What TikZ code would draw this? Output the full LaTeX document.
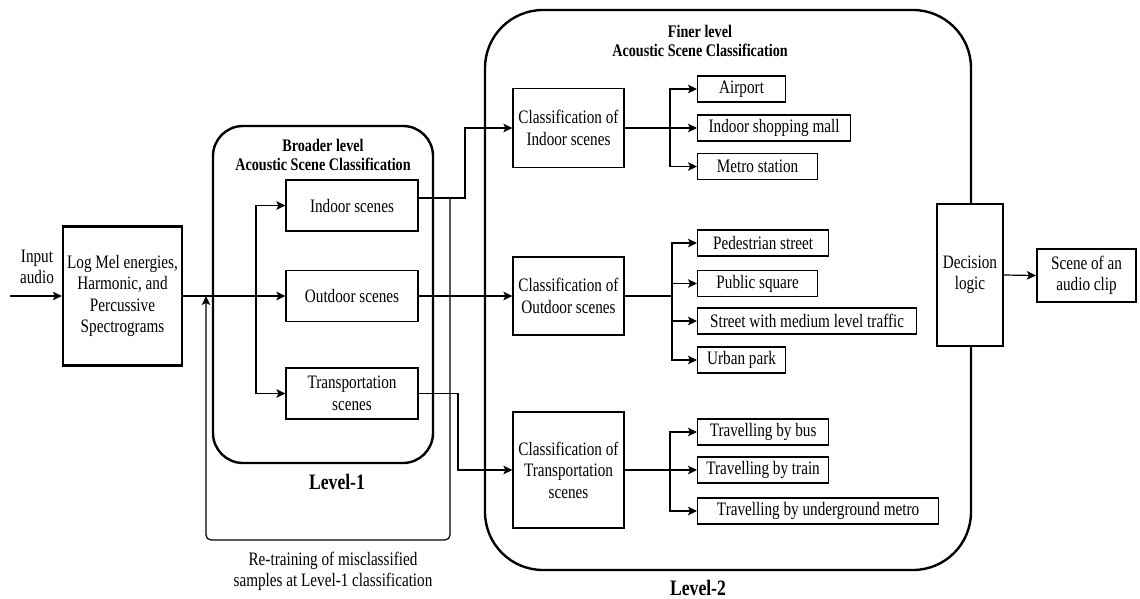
\documentclass[tikz,border=0pt]{standalone}
\usepackage{fontspec}
\setmainfont{Liberation Serif}[FakeStretch=0.8]
\usetikzlibrary{arrows.meta}
\begin{document}
\begin{tikzpicture}[x=1pt,y=-1pt,
  txt/.style={font=\fontsize{19}{21.5}\selectfont, align=center},
  hdr/.style={font=\fontsize{17.7}{19.5}\selectfont\bfseries, align=center},
  lvl/.style={font=\fontsize{22}{24}\selectfont\bfseries, anchor=base, inner sep=0pt, text depth=0pt},
  blk/.style={txt, draw, line width=1.2pt, fill=white, inner sep=0pt},
  thickblk/.style={blk, line width=2.2pt},
  leaf/.style={blk, minimum height=26pt, anchor=west},
  group/.style={draw, line width=2.4pt},
  wire/.style={line width=1.2pt},
  arr/.style={wire, -{Stealth[length=9pt,width=8.5pt,inset=2pt]}}]
\useasboundingbox (0,0) rectangle (1140,598);

% containers
\node[group, rounded corners=30pt, minimum width=220pt, minimum height=337pt] (lone) at (323,294.5) {};
\node[hdr] (lonehdr) at (323,155) {Broader level\\Acoustic Scene Classification};
\node[lvl] (lonelbl) at (337,489) {Level-1};

\node[group, rounded corners=58pt, minimum width=486pt, minimum height=560pt] (ltwo) at (728,290) {};
\node[hdr] (ltwohdr) at (700,41) {Finer level\\Acoustic Scene Classification};
\node[lvl] (ltwolbl) at (698,595.5) {Level-2};

% input and features
\node[txt] (inp) at (37,267) {Input\\audio};
\coordinate (src) at (10,296);
\node[thickblk, minimum width=119pt, minimum height=139pt] (feat) at (122.5,296) {Log Mel energies,\\Harmonic, and\\Percussive\\Spectrograms};

% level-1 classes
\node[blk, minimum width=132pt, minimum height=51pt] (indoor) at (352,205.5) {Indoor scenes};
\node[blk, minimum width=132pt, minimum height=51pt] (outdoor) at (352,296) {Outdoor scenes};
\node[blk, minimum width=132pt, minimum height=51pt] (transp) at (352,393.5) {Transportation\\scenes};

% level-2 classifiers
\node[blk, minimum width=111pt, minimum height=79pt] (cin) at (568.5,128) {Classification of\\Indoor scenes};
\node[blk, minimum width=111pt, minimum height=78pt] (cout) at (568.5,296) {Classification of\\Outdoor scenes};
\node[blk, minimum width=111pt, minimum height=116pt] (ctr) at (568.5,470) {Classification of\\Transportation\\scenes};

% leaf scenes
\node[leaf, minimum width=88pt] (airport) at (697,89) {Airport};
\node[leaf, minimum width=153pt] (mall) at (697,128) {Indoor shopping mall};
\node[leaf, minimum width=120pt] (metro) at (697,166.5) {Metro station};
\node[leaf, minimum width=131pt] (ped) at (697,243) {Pedestrian street};
\node[leaf, minimum width=120pt] (square) at (697,283.5) {Public square};
\node[leaf, minimum width=219pt] (street) at (697,321) {Street with medium level traffic};
\node[leaf, minimum width=88pt] (park) at (697,360) {Urban park};
\node[leaf, minimum width=131pt] (bus) at (697,432) {Travelling by bus};
\node[leaf, minimum width=131pt] (train) at (697,470) {Travelling by train};
\node[leaf, minimum width=241pt] (underground) at (697,511) {Travelling by underground metro};

% decision and output
\node[thickblk, minimum width=66pt, minimum height=142pt] (dec) at (970,275) {Decision\\logic};
\node[thickblk, minimum width=99pt, minimum height=53pt] (out) at (1086.5,275.5) {Scene of an\\audio clip};

\node[txt] (retrain) at (333,571.5) {Re-training of misclassified\\samples at Level-1 classification};

% connectors: input side
\draw[arr] (src) -- (feat.west);
\draw[arr] (feat.east) -- (outdoor.west);
\coordinate (split) at (256,296);
\draw[arr] (split) |- (indoor.west);
\draw[arr] (split) |- (transp.west);

% connectors: level-1 to level-2
\coordinate (inup) at (465,198);
\draw[arr] ([yshift=7.5pt]indoor.east) -- (inup) |- (cin.west);
\draw[arr] (outdoor.east) -- (cout.west);
\coordinate (trdown) at (458,393.5);
\draw[arr] (transp.east) -- (trdown) |- (ctr.west);

% re-training loop
\coordinate (tap) at (450,198);
\coordinate (join) at (206,296);
\draw[arr, rounded corners=5pt] (tap) -- (450,540) -- (206,540) -- (join);

% connectors: level-2 to leaves
\draw[arr] (cin.east) -- (mall.west);
\coordinate (bin) at (670,128);
\draw[arr] (bin) |- (airport.west);
\draw[arr] (bin) |- (metro.west);

\coordinate (bout) at (672,296);
\draw[wire] (cout.east) -- (bout);
\draw[arr] (bout) |- (ped.west);
\draw[arr] (bout) |- (square.west);
\draw[arr] (bout) |- (street.west);
\draw[arr] (bout) |- (park.west);

\draw[arr] (ctr.east) -- (train.west);
\coordinate (btr) at (670,470);
\draw[arr] (btr) |- (bus.west);
\draw[arr] (btr) |- (underground.west);

\draw[arr] (dec.east) -- (out.west);
\end{tikzpicture}
\end{document}
